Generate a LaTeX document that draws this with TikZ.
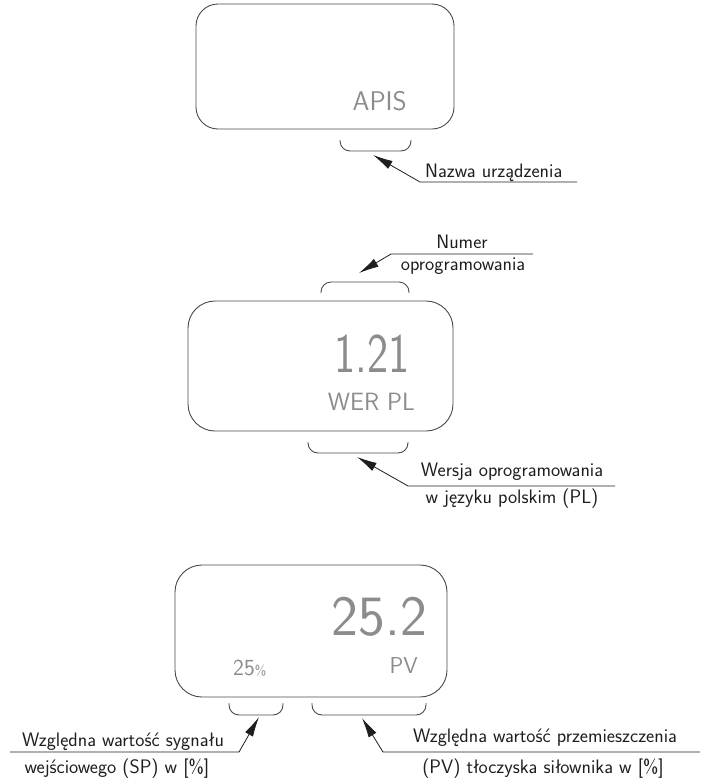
\documentclass[tikz,border=0pt]{standalone}
\usepackage{tikz}
\usetikzlibrary{arrows.meta}
\definecolor{LCDFrame}{HTML}{4A4A4A}
\definecolor{LCDText}{HTML}{8C8C8C}
\definecolor{NoteInk}{HTML}{1E1E1E}

\begin{document}
\begin{tikzpicture}[
      x=1pt,y=-1pt,
      display/.style={draw=LCDFrame,line width=0.9pt,rounded corners=27pt,
        inner sep=0pt},
      segtext/.style={color=LCDText,inner sep=0pt},
      note/.style={color=NoteInk,inner sep=0pt,
        font=\sffamily\fontsize{19.5}{22}\selectfont},
      bracket/.style={draw=LCDFrame,line width=0.9pt,rounded corners=10pt},
      pointer/.style={-{Latex[length=20pt,width=9pt]},color=NoteInk,
        line width=0.8pt}
    ]
      \useasboundingbox (0,0) rectangle (705,782);

      % start screen
      \node[display,rounded corners=22pt,minimum width=258pt,
        minimum height=125pt] (d1) at (325,66.5) {};
      \node[segtext,anchor=base east,
        font=\sffamily\fontsize{27}{30}\selectfont] (apis) at (407,110) {APIS};
      \draw[bracket] (340,140) -- (340,151) -- (411,151) -- (411,140);
      \coordinate (t1) at (373,155);
      \coordinate (k1) at (420,182);
      \coordinate (e1) at (577,182);
      \draw[pointer] (e1) -- (k1) -- (t1);
      \node[note,anchor=base west] (name) at (425,177) {Nazwa urządzenia};

      % version screen
      \node[display,minimum width=265pt,minimum height=130pt]
        (d2) at (320.5,366) {};
      \node[segtext,anchor=base east,
        font=\sffamily\fontsize{56}{60}\selectfont] (num) at (410,372)
        {\scalebox{0.8}[1]{1.21}};
      \node[segtext,anchor=base east,
        font=\sffamily\fontsize{25}{28}\selectfont] (wer) at (415,410)
        {WER PL};
      \draw[bracket] (321,293) -- (321,282) -- (409,282) -- (409,293);
      \draw[bracket] (308,442) -- (308,453) -- (408,453) -- (408,442);
      \coordinate (t2) at (359,273);
      \coordinate (k2) at (391,254);
      \coordinate (e2) at (533,254);
      \draw[pointer] (e2) -- (k2) -- (t2);
      \node[note,anchor=base] (numa) at (462,248) {Numer};
      \node[note,anchor=base] (numb) at (463,270) {oprogramowania};
      \coordinate (t3) at (357,457);
      \coordinate (k3) at (408,486);
      \coordinate (e3) at (615,486);
      \draw[pointer] (e3) -- (k3) -- (t3);
      \node[note,anchor=base] (vera) at (512,476) {Wersja oprogramowania};
      \node[note,anchor=base] (verb) at (512,503) {w języku polskim (PL)};

      % working screen
      \node[display,minimum width=272pt,minimum height=132pt]
        (d3) at (311,631) {};
      \node[segtext,anchor=base east,
        font=\sffamily\fontsize{57}{60}\selectfont] (pv) at (427,635) {25.2};
      \node[segtext,anchor=base west,
        font=\sffamily\fontsize{23}{26}\selectfont] (sp) at (233,675)
        {25{\fontsize{14}{16}\selectfont\%}};
      \node[segtext,anchor=base east,
        font=\sffamily\fontsize{23}{26}\selectfont] (pvl) at (418,673) {PV};
      \draw[bracket] (229,703) -- (229,715) -- (283,715) -- (283,703);
      \draw[bracket] (312,703) -- (312,715) -- (426,715) -- (426,703);
      \coordinate (t4) at (259,717);
      \coordinate (k4) at (239,752);
      \coordinate (e4) at (10,752);
      \draw[pointer] (e4) -- (k4) -- (t4);
      \node[note,anchor=base] (spa) at (123,746) {Względna wartość sygnału};
      \node[note,anchor=base] (spb) at (117,773) {wejściowego (SP) w [\%]};
      \coordinate (t5) at (362,718);
      \coordinate (k5) at (383,752);
      \coordinate (e5) at (700,752);
      \draw[pointer] (e5) -- (k5) -- (t5);
      \node[note,anchor=base] (pva) at (545,742)
        {Względna wartość przemieszczenia};
      \node[note,anchor=base] (pvb) at (543,773)
        {(PV) tłoczyska siłownika w [\%]};
    \end{tikzpicture}
\end{document}
